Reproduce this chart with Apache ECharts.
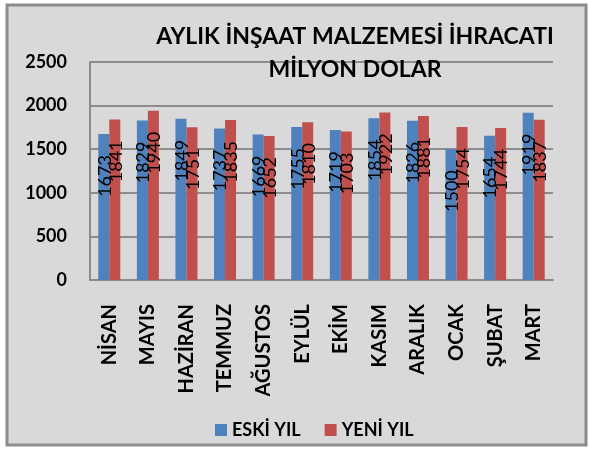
<!DOCTYPE html>
<html>
<head>
<meta charset="utf-8">
<script src="https://cdn.jsdelivr.net/npm/echarts@6/dist/echarts.min.js"></script>
<style>
  html, body { margin: 0; padding: 0; background: #ffffff; }
  #chart { width: 589px; height: 449px; }
</style>
</head>
<body>
<div id="chart"></div>
<script>
// aylar
const months = ['NİSAN', 'MAYIS', 'HAZİRAN', 'TEMMUZ', 'AĞUSTOS', 'EYLÜL', 'EKİM', 'KASIM', 'ARALIK', 'OCAK', 'ŞUBAT', 'MART'];
// eski yil degerleri
const eskiYil = [1673, 1829, 1849, 1737, 1669, 1755, 1719, 1854, 1826, 1500, 1654, 1919];
// yeni yil degerleri
const yeniYil = [1841, 1940, 1751, 1835, 1652, 1810, 1703, 1922, 1881, 1754, 1744, 1837];
const yTicks = [0, 500, 1000, 1500, 2000, 2500];

const font = 'Lato, "Open Sans", sans-serif';

// bar ustundeki dikey etiketler
const barLabel = {
  show: true,
  position: 'insideTop',
  rotate: 90,
  align: 'right',
  verticalAlign: 'middle',
  offset: [-16, 1],
  color: '#000',
  fontFamily: font,
  fontSize: 18
};

const chart = echarts.init(document.getElementById('chart'));
chart.setOption({
  backgroundColor: '#ffffff',
  animation: false,
  graphic: [
    {
      type: 'rect',
      z: -10,
      silent: true,
      shape: { x: 7, y: 5, width: 579, height: 440 },
      style: { fill: '#d9d9d9', stroke: '#8c8c8c', lineWidth: 3 }
    }
  ],
  title: {
    text: 'AYLIK İNŞAAT MALZEMESİ İHRACATI\nMİLYON DOLAR',
    left: 350,
    top: 15,
    textAlign: 'center',
    textStyle: {
      fontFamily: font,
      fontWeight: 'bold',
      fontSize: 23,
      lineHeight: 33,
      color: '#000'
    }
  },
  legend: {
    top: 419,
    left: 215,
    padding: 0,
    itemWidth: 12,
    itemHeight: 12,
    itemGap: 24,
    icon: 'rect',
    textStyle: { fontFamily: font, fontWeight: 'bold', fontSize: 18, lineHeight: 22, color: '#000' },
    data: ['ESKİ YIL', 'YENİ YIL']
  },
  grid: { left: 90, right: 36, top: 62, bottom: 169, containLabel: false },
  xAxis: {
    type: 'category',
    data: months,
    axisLine: { lineStyle: { color: '#8c8c8c', width: 2 } },
    axisTick: { show: false },
    axisLabel: {
      rotate: 90,
      margin: 24,
      interval: 0,
      color: '#000',
      fontFamily: font,
      fontWeight: 'bold',
      fontSize: 20
    }
  },
  yAxis: {
    type: 'value',
    min: yTicks[0],
    max: yTicks[yTicks.length - 1],
    interval: 500,
    axisLine: { show: true, lineStyle: { color: '#8c8c8c', width: 2 } },
    axisTick: { show: false },
    splitLine: { lineStyle: { color: '#8c8c8c', width: 2 } },
    axisLabel: {
      margin: 23,
      color: '#000',
      fontFamily: font,
      fontWeight: 'bold',
      fontSize: 18,
      formatter: v => String(v)
    }
  },
  series: [
    {
      name: 'ESKİ YIL',
      type: 'bar',
      data: eskiYil,
      barGap: 0,
      barCategoryGap: '43%',
      itemStyle: { color: '#4f81bd' },
      label: barLabel
    },
    {
      name: 'YENİ YIL',
      type: 'bar',
      data: yeniYil,
      itemStyle: { color: '#c0504d' },
      label: barLabel
    }
  ]
});
</script>
</body>
</html>
